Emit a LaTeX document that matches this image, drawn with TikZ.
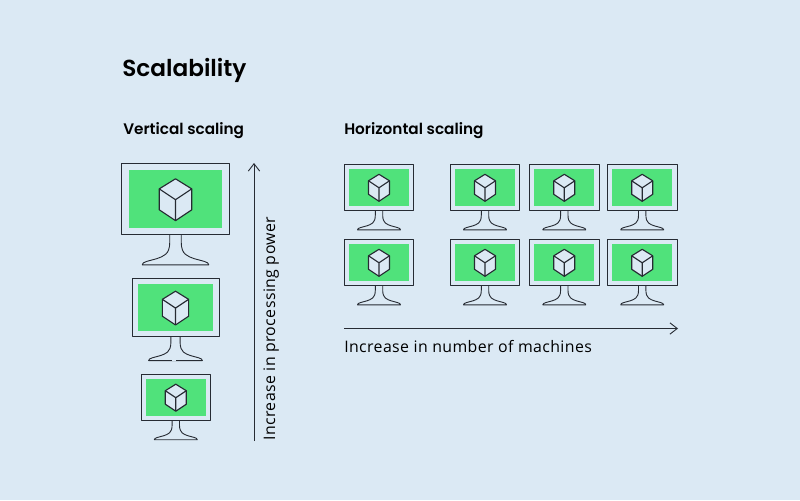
\documentclass[tikz,border=0pt]{standalone}
\usepackage{fontspec}
\setmainfont[LetterSpace=2.5]{Open Sans}
\newfontfamily\headfont[BoldFont=Poppins SemiBold]{Poppins}
\usetikzlibrary{arrows.meta}
\definecolor{bgc}{HTML}{DBE9F4}
\definecolor{scr}{HTML}{50E27B}
\definecolor{ink}{HTML}{262B33}
\tikzset{
  x=0.75pt,y=-0.75pt,
  line/.style={draw=ink,line width=0.68pt,line join=round},
  casing/.style={line,fill=bgc},
  screen/.style={fill=scr},
  cubeface/.style={line,line width=0.85pt,fill=bgc},
  cubeedge/.style={line,line width=0.85pt},
  axis/.style={draw=ink,line width=0.68pt,-{Straight Barb[length=5.5pt,width=8.5pt,line width=0.68pt]}},
  title/.style={anchor=base west,inner sep=0pt,font=\headfont\fontsize{17.4}{20}\selectfont\bfseries},
  head/.style={anchor=base west,inner sep=0pt,font=\headfont\fontsize{11.45}{13}\selectfont\bfseries},
  lab/.style={anchor=base west,inner sep=0pt,font=\fontsize{11.9}{13}\selectfont},
}
% centre x, top y, scale
\newcommand{\monitor}[3]{%
  \begin{scope}[shift={(#1,#2)},x=#3*0.75pt,y=-#3*0.75pt]
    \path[casing] (-34.8,0) rectangle (34.8,46);
    \path[screen] (-30,4.5) rectangle (30,41.5);
    \path[cubeface] (0,10) -- (10.5,16.5) -- (10.5,30) -- (0,37) -- (-10.5,30) -- (-10.5,16.5) -- cycle;
    \draw[cubeedge] (-10.5,16.5) -- (0,23.5) -- (10.5,16.5) (0,23.5) -- (0,37);
    \draw[line] (-3.7,46) -- (-3.7,51)
      .. controls (-3.7,59) and (-8,60) .. (-12,61.5)
      .. controls (-17,63) and (-21.5,63.5) .. (-21.5,65.5)
      -- (21.5,65.5)
      .. controls (21.5,63.5) and (17,63) .. (12,61.5)
      .. controls (8,60) and (3.7,59) .. (3.7,51) -- (3.7,46);
  \end{scope}}
\begin{document}
\begin{tikzpicture}
\useasboundingbox (0,0) rectangle (800,500);
\fill[bgc] (0,0) rectangle (800,500);
\node[title] (t) at (122,76) {Scalability};
\node[head] (v) at (123,134) {Vertical scaling};
\node[head] (h) at (344,134) {Horizontal scaling};
\monitor{175.5}{163.3}{1.55}
\monitor{175.5}{278.7}{1.25}
\draw[bgc,line width=1.2pt] (172,360.4) -- (176,360.4);
\monitor{175.8}{374.2}{1}
\foreach \cx in {379,485,564.3,642.2} {
  \monitor{\cx}{164.3}{1}
  \monitor{\cx}{239.3}{1}
}
\coordinate (va) at (254,441);
\coordinate (vb) at (254,163);
\draw[axis] (va) -- (vb);
\coordinate (ha) at (344,328.5);
\coordinate (hb) at (678,328.5);
\draw[axis] (ha) -- (hb);
\node[lab,rotate=90] (vl) at (275,441) {Increase in processing power};
\node[lab] (hl) at (344,352.3) {Increase in number of machines};
\end{tikzpicture}
\end{document}
